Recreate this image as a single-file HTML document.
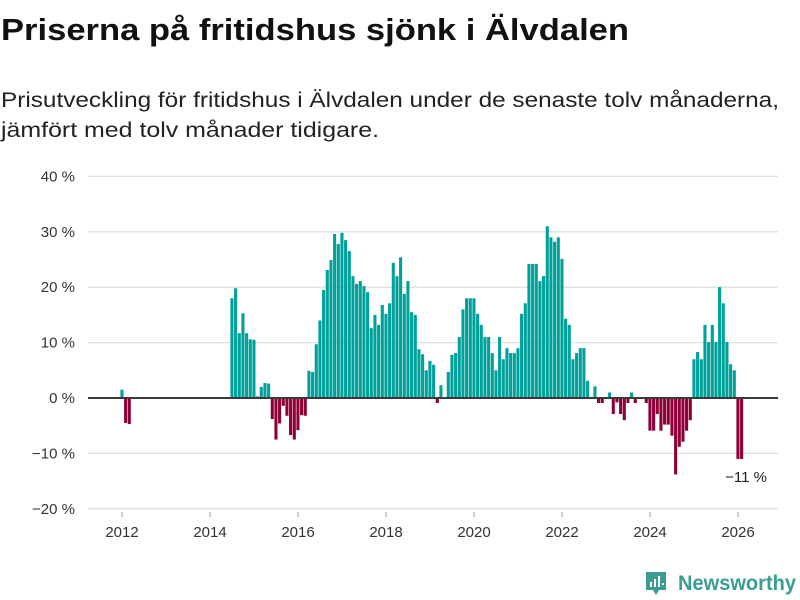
<!DOCTYPE html>
<html><head><meta charset="utf-8"><style>
html,body{margin:0;padding:0;background:#fff;}
svg{display:block;font-family:"Liberation Sans",sans-serif;}
</style></head><body>
<svg id="chart" width="800" height="600" viewBox="0 0 800 600">
<text x="1" y="40" font-size="31" font-weight="bold" fill="#111" textLength="628" lengthAdjust="spacingAndGlyphs">Priserna på fritidshus sjönk i Älvdalen</text>
<text x="1" y="107" font-size="21" fill="#222" textLength="778" lengthAdjust="spacingAndGlyphs">Prisutveckling för fritidshus i Älvdalen under de senaste tolv månaderna,</text>
<text x="1" y="137" font-size="21" fill="#222" textLength="378" lengthAdjust="spacingAndGlyphs">jämfört med tolv månader tidigare.</text>
<g id="grid"></g><g id="bars"></g><g id="axes"></g>
<text x="767" y="482" font-size="15" fill="#222" text-anchor="end">−11 %</text>
<g>
<path d="M646 572h20v18h-7l-3 5-3-5h-7z" fill="#3a9c93"/>
<rect x="650" y="582" width="2" height="5" fill="#fff"/><rect x="654" y="579" width="2" height="8" fill="#fff"/><rect x="658" y="576" width="2" height="11" fill="#fff"/><rect x="662" y="583" width="2" height="2" fill="#fff"/>
<text x="678" y="590" font-size="21" font-weight="bold" fill="#3a9c93" textLength="118" lengthAdjust="spacingAndGlyphs">Newsworthy</text>
</g>
</svg>
<script>
const startYear = 2012;
const values = [1.5,-4.5,-4.7,0,0,0,0,0,0,0,0,0,0,0,0,0,0,0,0,0,0,0,0,0,0,0,0,0,0,0,
18,19.8,11.7,15.3,11.7,10.6,10.5,0.3,2,2.7,2.6,-3.8,-7.5,-4.6,-1.4,-3.2,-6.7,-7.5,-5.8,-3.1,-3.2,
4.9,4.7,9.7,14,19.5,23.1,24.9,29.6,27.8,29.8,28.5,26.5,22,20.6,21.1,20.2,19.1,12.6,15,13.2,16.8,15.2,17.1,24.4,22,25.4,18.8,21.1,15.5,15,8.8,7.9,5,6.7,6,-0.9,2.3,0,
4.7,7.8,8.1,11,16,18,18,18,15.2,13.2,11,11,8.1,5,11,7,9,8.1,8.1,9,15.2,17.1,24.2,24.2,24.2,21.1,22,31,29,28.2,29,25.1,14.3,13.2,7,8.1,9,9,3.1,0,2.1,-0.9,-0.9,
0,1,-2.9,-0.8,-2.9,-4,-0.9,1,-0.9,0,0,-0.9,-5.9,-5.9,-2.9,-5.9,-4.8,-4.8,-6.8,-13.8,-8.8,-7.9,-5.9,-4,
7,8.3,7,13.2,10.1,13.2,10.1,20,17.1,10.1,6.1,5,-11,-11];
const yTicks = [-20,-10,0,10,20,30,40];
const xTicks = [2012,2014,2016,2018,2020,2022,2024,2026];
const NS='http://www.w3.org/2000/svg';
function y(v){return 398 - v*5.54;}
function xm(i){return 122 + i*44/12;}
function xYear(yr){return 122 + (yr-startYear)*44;}
const grid=document.getElementById('grid'),bars=document.getElementById('bars'),axes=document.getElementById('axes');
yTicks.forEach(t=>{
  if(t!==0){const l=document.createElementNS(NS,'line');
  l.setAttribute('x1',88);l.setAttribute('x2',778);l.setAttribute('y1',y(t));l.setAttribute('y2',y(t));
  l.setAttribute('stroke','#e0e0e0');l.setAttribute('stroke-width','1.3');
  
  
  grid.appendChild(l);}
  const tx=document.createElementNS(NS,'text');
  tx.setAttribute('x',75);tx.setAttribute('y',y(t)+5);tx.setAttribute('text-anchor','end');
  tx.setAttribute('font-size','15');tx.setAttribute('fill','#333');
  tx.textContent=(t<0?'−'+(-t):t)+' %';
  
  
  axes.appendChild(tx);
});
values.forEach((v,i)=>{
  if(v===0)return;
  const r=document.createElementNS(NS,'rect');
  r.setAttribute('x',xm(i)-1.6);r.setAttribute('width',3.1);
  r.setAttribute('y',Math.min(y(v),y(0)));r.setAttribute('height',Math.abs(y(v)-y(0)));
  r.setAttribute('fill',v>0?'#00a19a':'#8f0039');
  
  
  bars.appendChild(r);
});
const z=document.createElementNS(NS,'line');
z.setAttribute('x1',88);z.setAttribute('x2',778);z.setAttribute('y1',y(0));z.setAttribute('y2',y(0));
z.setAttribute('stroke','#3a3a3a');z.setAttribute('stroke-width','2');


axes.appendChild(z);
xTicks.forEach(t=>{
  const tx=document.createElementNS(NS,'text');
  tx.setAttribute('x',xYear(t));tx.setAttribute('y',537);tx.setAttribute('text-anchor','middle');
  tx.setAttribute('font-size','15');tx.setAttribute('fill','#333');
  tx.textContent=t;
  
  
  axes.appendChild(tx);
  const tk=document.createElementNS(NS,'line');
  tk.setAttribute('x1',xYear(t));tk.setAttribute('x2',xYear(t));tk.setAttribute('y1',512);tk.setAttribute('y2',517);
  tk.setAttribute('stroke','#999');
  
  
  axes.appendChild(tk);
});
</script>
</body></html>
